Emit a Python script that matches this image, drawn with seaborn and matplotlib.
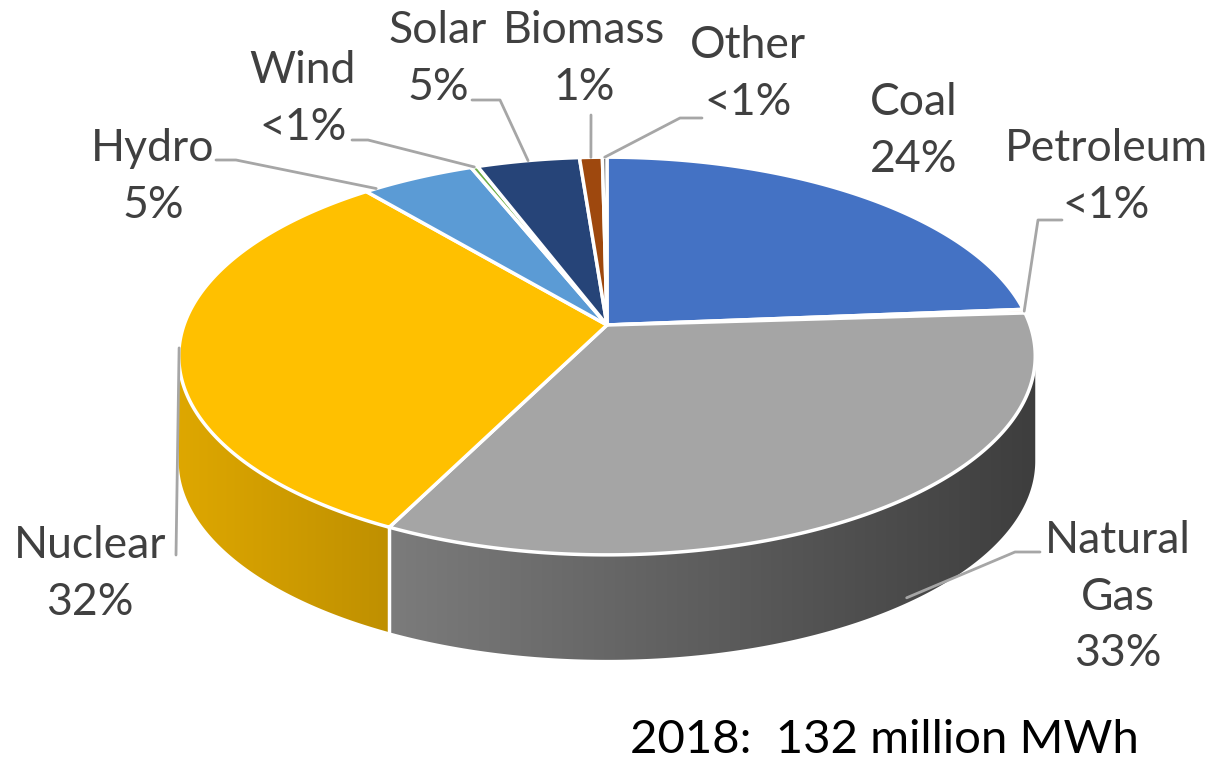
import numpy as np
import matplotlib
matplotlib.use("Agg")
import matplotlib.pyplot as plt
import seaborn as sns

# Data: electricity generation by source, 2018
sources = ["Coal", "Petroleum", "Natural Gas", "Nuclear", "Hydro", "Wind", "Solar", "Biomass", "Other"]
shares = [23.7, 0.3, 33.3, 31.7, 5.0, 0.3, 4.5, 1.0, 0.2]
name_text = ["Coal", "Petroleum", "Natural\nGas", "Nuclear", "Hydro", "Wind", "Solar", "Biomass", "Other"]
pct_text = ["24%", "<1%", "33%", "32%", "5%", "<1%", "5%", "1%", "<1%"]
footer = "2018:  132 million MWh"

colors = sns.color_palette(["#4472C4", "#ED7D31", "#A5A5A5", "#FFC000", "#5B9BD5",
                            "#70AD47", "#264478", "#9E480E", "#636363"])

# 3d pie geometry (pixel space)
CX, CY = 607, 325
RX, RY = 423, 194
K = 0.156      # perspective
D = 105        # thickness

# label layout: text centre, leader start/elbow, where on slice the leader lands
label_pos = {
    "Coal": (914, 131), "Petroleum": (1106, 177), "Natural Gas": (1118, 597),
    "Nuclear": (90, 574), "Hydro": (153, 177), "Wind": (303, 99),
    "Solar": (438, 59), "Biomass": (584, 59), "Other": (748, 74),
}
leader_start = {
    "Petroleum": [(1062, 220), (1038, 220)],
    "Natural Gas": [(1040, 552), (1015, 552)],
    "Nuclear": [(176, 555)],
    "Hydro": [(216, 160), (236, 160)],
    "Wind": [(352, 140), (368, 140)],
    "Solar": [(472, 100), (500, 100)],
    "Biomass": [(591, 115)],
    "Other": [(702, 118), (680, 118)],
}
leader_frac = {"Hydro": 0.1, "Natural Gas": 0.46}
leader_drop = {"Natural Gas": 0.95}


def proj(t_deg, drop=0.0):
    t = np.radians(t_deg)
    u, v = np.cos(t), np.sin(t)
    s = 1.0 / (1.0 + K * v)
    return CX + RX * u * s, CY - RY * v * s + drop


def norm(t):
    return ((t + 270) % 360) - 270


sns.set_theme(style="white")
plt.rcParams['font.family'] = ['Lato', 'DejaVu Sans']

fig = plt.figure(figsize=(12.09, 7.62), dpi=100)
ax = fig.add_axes([0, 0, 1, 1])
ax.set_xlim(0, 1209)
ax.set_ylim(762, 0)
ax.axis("off")

total = sum(shares)
cum = np.concatenate([[0], np.cumsum(shares)]) / total * 360
starts = 90 - cum[:-1]
ends = 90 - cum[1:]

# visible part of the wall lies between the two silhouette angles
sil = np.degrees(np.arcsin(K))
vis_lo, vis_hi = -180 + sil, -sil
xgrid = np.arange(0, 1210)
shade = 0.87 - 0.00058 * (xgrid - 180)

for i in range(len(sources)):
    a, b = norm(starts[i]), norm(ends[i])
    if a < b:
        a += 360
    hi, lo = min(a, vis_hi), max(b, vis_lo)
    if hi <= lo:
        continue
    ts = np.linspace(hi, lo, max(2, int((hi - lo) / 0.25) + 2))
    xs, ys = proj(ts)
    poly = list(zip(xs, ys)) + list(zip(xs[::-1], ys[::-1] + D))
    patch = plt.Polygon(poly, closed=True, facecolor="none", edgecolor="none")
    ax.add_patch(patch)
    img = np.clip(np.array(colors[i])[None, None, :] * shade[None, :, None], 0, 1)
    im = ax.imshow(img, extent=(0, 1210, 700, 150), aspect="auto", interpolation="bilinear", zorder=1)
    im.set_clip_path(patch)

# white seams on the side between slices
for bnd in ends:
    tb = norm(bnd)
    if vis_lo < tb < vis_hi:
        x, y = proj(tb)
        ax.plot([x, x], [y, y + D], color="white", lw=2.5, zorder=2)

# top faces
for i in range(len(sources)):
    n = max(2, int(abs(starts[i] - ends[i]) / 0.25) + 2)
    ts = np.linspace(starts[i], ends[i], n)
    xs, ys = proj(ts)
    poly = [(CX, CY)] + list(zip(xs, ys))
    ax.add_patch(plt.Polygon(poly, closed=True, facecolor=colors[i], edgecolor="white",
                             lw=2.5, joinstyle="round", zorder=3))

# labels and leader lines
for i, src in enumerate(sources):
    lx, ly = label_pos[src]
    ax.text(lx, ly, name_text[i] + "\n" + pct_text[i], ha="center", va="center",
            fontsize=32, color="#404040", linespacing=1.48, zorder=5)
    if src in leader_start:
        fr = leader_frac.get(src, 0.5)
        tl = starts[i] + (ends[i] - starts[i]) * fr
        ex, ey = proj(tl, D * leader_drop.get(src, 0.0))
        pts = leader_start[src] + [(ex, ey)]
        ax.plot([p[0] for p in pts], [p[1] for p in pts], color="#A6A6A6", lw=2, zorder=4)

ax.text(630, 740, footer, ha="left", va="center", fontsize=34, color="black", zorder=5)

fig.savefig("out.png", dpi=100, facecolor="white")
